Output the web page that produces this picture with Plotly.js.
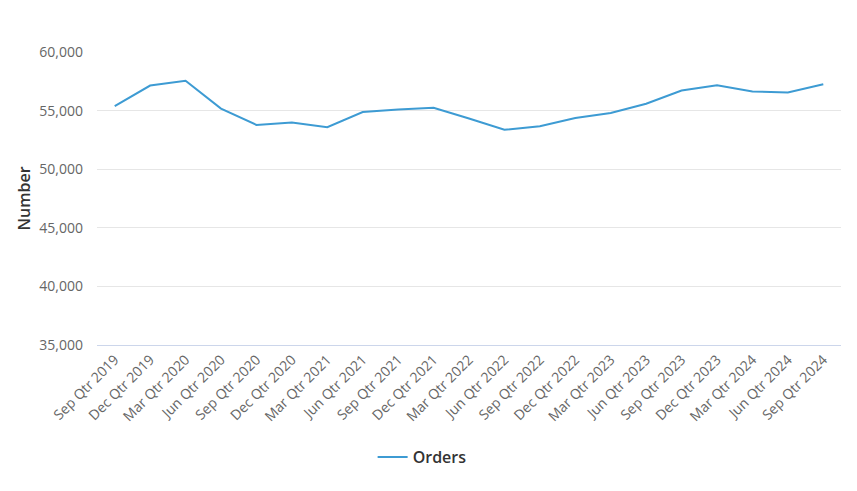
<!DOCTYPE html>
<html>
<head>
<meta charset="utf-8">
<script src="https://cdn.plot.ly/plotly-3.0.1.min.js"></script>
<style>html,body{margin:0;padding:0;background:#fff;}#chart{width:857px;height:491px;}</style>
</head>
<body>
<div id="chart"></div>
<script>
const quarters = ["Sep Qtr 2019","Dec Qtr 2019","Mar Qtr 2020","Jun Qtr 2020","Sep Qtr 2020","Dec Qtr 2020","Mar Qtr 2021","Jun Qtr 2021","Sep Qtr 2021","Dec Qtr 2021","Mar Qtr 2022","Jun Qtr 2022","Sep Qtr 2022","Dec Qtr 2022","Mar Qtr 2023","Jun Qtr 2023","Sep Qtr 2023","Dec Qtr 2023","Mar Qtr 2024","Jun Qtr 2024","Sep Qtr 2024"];
const orders = [55390,57140,57540,55170,53780,53980,53590,54880,55090,55250,54320,53360,53670,54370,54800,55590,56720,57170,56640,56550,57250];
const yTicks = [35000,40000,45000,50000,55000,60000];
const yTickText = ["35,000","40,000","45,000","50,000","55,000","60,000"];

const trace = {
  x: quarters, y: orders, type: "scatter", mode: "lines", name: "Orders",
  line: {color: "#3d9bd3", width: 2}
};
const layout = {
  width: 857, height: 491,
  margin: {l: 97, r: 16, t: 52, b: 145.5},
  paper_bgcolor: "#fff", plot_bgcolor: "#fff",
  font: {family: "Open Sans, sans-serif", color: "#666", size: 14},
  showlegend: true,
  legend: {orientation: "h", x: 0.437, xanchor: "center", y: -0.383, yanchor: "middle",
           font: {size: 16, color: "#333", weight: 600}, itemwidth: 30},
  xaxis: {
    type: "category", range: [-0.5, 20.5], tickangle: -45, tickmode: "linear", tick0: 0, dtick: 1,
    showgrid: false, showline: true, linecolor: "#ccd6eb", linewidth: 1,
    ticks: "", tickfont: {size: 14, color: "#666"}, automargin: false, fixedrange: true
  },
  yaxis: {
    range: [35000, 60000], tickvals: yTicks, ticktext: yTickText,
    showgrid: true, gridcolor: "#e6e6e6", gridwidth: 1, zeroline: false, showline: false,
    ticks: "", tickfont: {size: 14, color: "#666"}, ticklabelstandoff: 13,
    title: {text: "Number", font: {size: 16, color: "#333", weight: 600}, standoff: 4},
    automargin: false, fixedrange: true
  }
};
Plotly.newPlot("chart", [trace], layout, {displayModeBar: false, staticPlot: true});
</script>
</body>
</html>
